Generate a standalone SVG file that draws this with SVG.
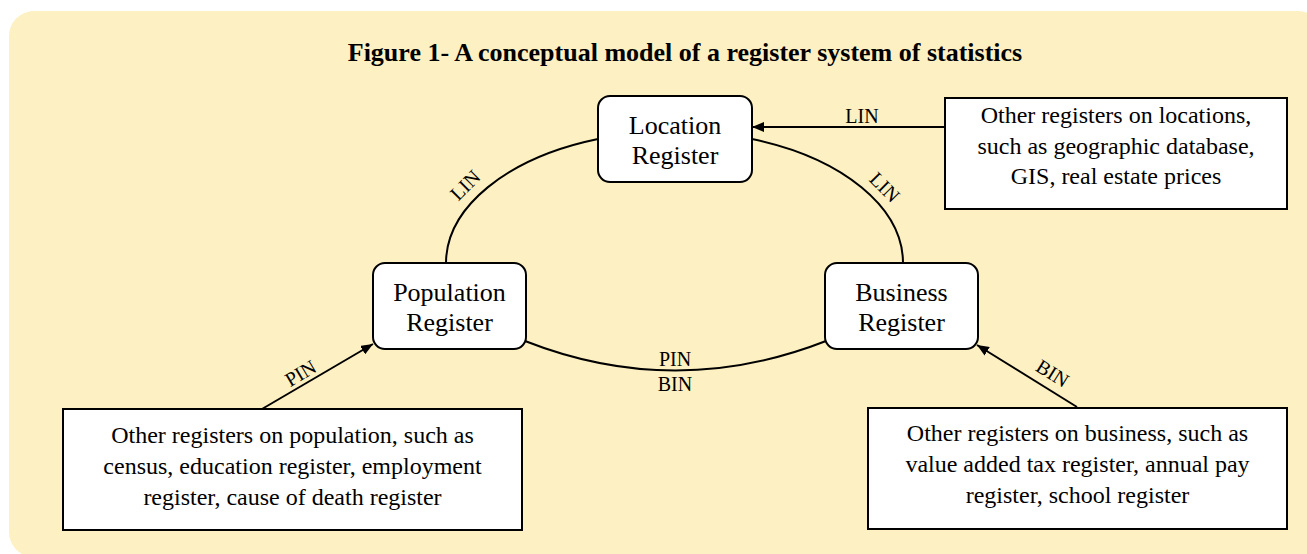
<svg xmlns="http://www.w3.org/2000/svg" width="1307" height="554" viewBox="0 0 1307 554">
<style>
.node{fill:#fff;stroke:#000;stroke-width:2}
.t{font-family:"Liberation Serif","Times New Roman",serif;fill:#000;text-anchor:middle}
.big{font-size:26px}
.mid{font-size:24px}
.lbl{font-size:20px}
.edge{fill:none;stroke:#000;stroke-width:2}
</style>
<defs>
<marker id="arr" viewBox="0 0 12 10" refX="12" refY="5" markerWidth="12" markerHeight="10" markerUnits="userSpaceOnUse" orient="auto">
<path d="M0,0 L12,5 L0,10 Z" fill="#000"/>
</marker>
</defs>
<rect x="9" y="11" width="1314" height="546" rx="25" fill="#FDF0C2"/>
<text class="t" x="685" y="61" font-size="26" font-weight="bold">Figure 1- A conceptual model of a register system of statistics</text>
<g id="connectors">
<path class="edge" d="M945,127 L752,127" marker-end="url(#arr)"/>
<path class="edge" d="M598,139 A229,132 0 0 0 446,263"/>
<path class="edge" d="M752,139 A229,132 0 0 1 903,263"/>
<path class="edge" d="M525,341 Q675,400 826,341"/>
<path class="edge" d="M262,409 L373,344" marker-end="url(#arr)"/>
<path class="edge" d="M1077,407 L977,345" marker-end="url(#arr)"/>
<text class="t lbl" x="862" y="123">LIN</text>
<text class="t lbl" transform="translate(470,190) rotate(-45)">LIN</text>
<text class="t lbl" transform="translate(880,192) rotate(45)">LIN</text>
<text class="t lbl" x="675" y="366">PIN</text>
<text class="t lbl" x="675" y="391">BIN</text>
<text class="t lbl" transform="translate(304,379) rotate(-31)">PIN</text>
<text class="t lbl" transform="translate(1049,379) rotate(32)">BIN</text>
</g>
<g id="location">
<rect class="node" x="598" y="96" width="154" height="86" rx="12"/>
<text class="t big" x="675" y="134">Location</text>
<text class="t big" x="675" y="164">Register</text>
</g>
<g id="population">
<rect class="node" x="373" y="263" width="153" height="86" rx="12"/>
<text class="t big" x="449.5" y="301">Population</text>
<text class="t big" x="449.5" y="331">Register</text>
</g>
<g id="business">
<rect class="node" x="825" y="263" width="153" height="86" rx="12"/>
<text class="t big" x="901.5" y="301">Business</text>
<text class="t big" x="901.5" y="331">Register</text>
</g>
<g id="other-locations">
<rect class="node" x="945" y="98" width="342" height="111"/>
<text class="t mid" x="1116" y="123">Other registers on locations,</text>
<text class="t mid" x="1116" y="154">such as geographic database,</text>
<text class="t mid" x="1116" y="184">GIS, real estate prices</text>
</g>
<g id="other-population">
<rect class="node" x="63" y="409" width="459" height="121"/>
<text class="t mid" x="292.5" y="443">Other registers on population, such as</text>
<text class="t mid" x="292.5" y="474">census, education register, employment</text>
<text class="t mid" x="292.5" y="505">register, cause of death register</text>
</g>
<g id="other-business">
<rect class="node" x="868" y="408" width="419" height="121"/>
<text class="t mid" x="1077.5" y="441">Other registers on business, such as</text>
<text class="t mid" x="1077.5" y="472">value added tax register, annual pay</text>
<text class="t mid" x="1077.5" y="503">register, school register</text>
</g>
</svg>
